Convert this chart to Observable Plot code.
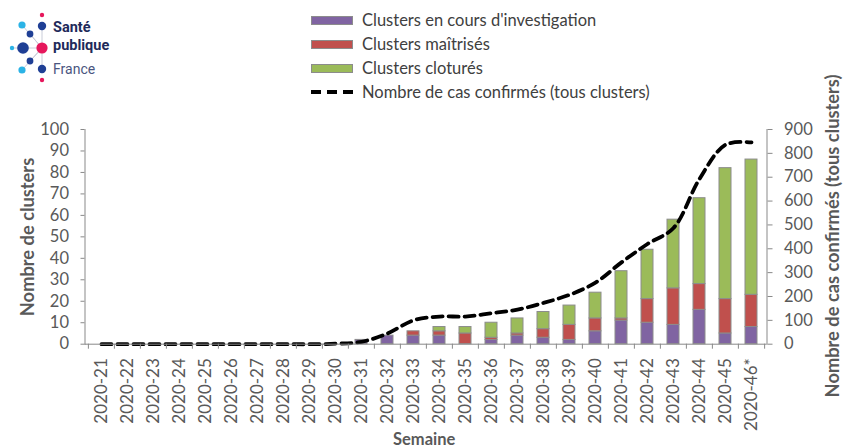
<!DOCTYPE html>
<html>
<head>
<meta charset="utf-8">
<script src="https://cdn.jsdelivr.net/npm/d3@7"></script>
<script src="https://cdn.jsdelivr.net/npm/@observablehq/plot@0.6"></script>
<style>
  body { margin: 0; background: #fff; }
  #wrap { position: relative; width: 845px; height: 448px; font-family: Lato, sans-serif; overflow: hidden; }
  #chart { position: absolute; left: 0; top: 0; }
  .leg { position: absolute; left: 311px; top: 8px; color: #404040; font-size: 16.5px; }
  .row { display: flex; align-items: center; height: 24px; }
  .sw { width: 40px; height: 7px; border: 1px solid #8c8c8c; margin-right: 9px; }
  .dash { width: 42px; height: 4px; margin-right: 9px;
          background: repeating-linear-gradient(90deg, #000 0 10px, transparent 10px 16px); }
  .title { position: absolute; font-weight: bold; color: #595959; font-size: 18.3px; white-space: nowrap; }
  .logo { position: absolute; left: 0; top: 0; }
</style>
</head>
<body>
<div id="wrap">
  <div id="chart"></div>
  <svg class="logo" width="135" height="90" viewBox="0 0 135 90">
    <g stroke="#c9ccd8" stroke-width="1">
      <line x1="42" y1="26" x2="42" y2="69"/>
      <line x1="42" y1="48" x2="22" y2="25"/>
      <line x1="42" y1="48" x2="30" y2="34"/>
      <line x1="42" y1="48" x2="23" y2="48"/>
      <line x1="42" y1="48" x2="30" y2="61"/>
      <line x1="42" y1="48" x2="22" y2="70"/>
      <line x1="23" y1="48" x2="12" y2="48"/>
    </g>
    <circle cx="42" cy="15" r="2.2" fill="#e6175c"/>
    <circle cx="22" cy="25" r="3.6" fill="#2bb3e6"/>
    <circle cx="42" cy="26" r="4.2" fill="#1f3f95"/>
    <circle cx="30" cy="34" r="3.4" fill="#1f3f95"/>
    <circle cx="12" cy="48" r="2.2" fill="#2bb3e6"/>
    <circle cx="23" cy="48" r="5.8" fill="#1f3f95"/>
    <circle cx="42" cy="48" r="5.6" fill="#e6175c"/>
    <circle cx="30" cy="61" r="3.4" fill="#1f3f95"/>
    <circle cx="22" cy="70" r="3.6" fill="#2bb3e6"/>
    <circle cx="42" cy="69" r="4.2" fill="#1f3f95"/>
    <circle cx="42" cy="80" r="2.2" fill="#e6175c"/>
    <text x="53" y="32" font-family="Roboto" font-weight="bold" font-size="14.5" fill="#1e2a5a">Santé</text>
    <text x="53" y="50" font-family="Roboto" font-weight="bold" font-size="14.5" fill="#1e2a5a">publique</text>
    <text x="53" y="74" font-family="Roboto" font-size="14" fill="#4a5680">France</text>
  </svg>
  <div class="leg" id="legend"></div>
  <div class="title" id="ytitle"></div>
  <div class="title" id="y2title"></div>
  <div class="title" id="xtitle"></div>
</div>
<script>
// ---- data ----
const weeks = ["2020-21","2020-22","2020-23","2020-24","2020-25","2020-26","2020-27","2020-28","2020-29","2020-30",
  "2020-31","2020-32","2020-33","2020-34","2020-35","2020-36","2020-37","2020-38","2020-39","2020-40",
  "2020-41","2020-42","2020-43","2020-44","2020-45","2020-46*"];
const enCours   = [0,0,0,0,0,0,0,0,0,0, 2,4,4,4,0,2,4,3,2,6, 11,10,9,16,5,8];
const maitrises = [0,0,0,0,0,0,0,0,0,0, 0,0,2,2,5,1,1,4,7,6, 1,11,17,12,16,15];
const clotures  = [0,0,0,0,0,0,0,0,0,0, 0,0,0,2,3,7,7,8,9,12, 22,23,32,40,61,63];
const cas       = [0,0,0,0,0,0,0,0,0,2, 10,45,100,116,116,130,145,173,207,258, 343,420,487,693,836,846];
const seriesNames = ["Clusters en cours d'investigation","Clusters maîtrisés","Clusters cloturés"];
const seriesColors = ["#8064a2","#c0504d","#9bbb59"];
const lineName = "Nombre de cas confirmés (tous clusters)";
const leftTicks = [0,10,20,30,40,50,60,70,80,90,100];
const rightTicks = [0,100,200,300,400,500,600,700,800,900];
const yTitle = "Nombre de clusters";
const y2Title = "Nombre de cas confirmés (tous clusters)";
const xTitle = "Semaine";

// ---- build ----
const seriesVals = [enCours, maitrises, clotures];
const long = [];
seriesNames.forEach((s, si) => weeks.forEach((w, i) => long.push({week: w, series: s, value: seriesVals[si][i]})));
const caseRows = weeks.map((w, i) => ({week: w, cas: cas[i]}));
const ratio = 900 / 100;

const W = 845, H = 448;
const mL = 84.5, mR = W - 766.5, mT = 129, mB = H - 343.7;
const step = (W - mL - mR) / weeks.length;
const gray = "#898989", txt = "#595959";

const plot = Plot.plot({
  width: W, height: H,
  marginLeft: mL, marginRight: mR, marginTop: mT, marginBottom: mB,
  style: {fontFamily: "Lato, sans-serif", fontSize: "16.5px", color: txt, background: "#fff"},
  x: {domain: weeks, paddingInner: 0.55, paddingOuter: 0.275},
  y: {domain: [0, 100]},
  color: {domain: seriesNames, range: seriesColors},
  marks: [
    Plot.barY(long, Plot.stackY({x: "week", y: "value", fill: "series", order: seriesNames,
      stroke: "#8c8c8c", strokeWidth: 1})),
    Plot.line(caseRows, {x: "week", y: d => d.cas / ratio, curve: "catmull-rom",
      stroke: "#000", strokeWidth: 3.8, strokeDasharray: "10,6"}),
    Plot.ruleY([0], {stroke: gray}),
    Plot.axisY(leftTicks, {anchor: "left", tickSize: 4, tickPadding: 12, label: null,
      stroke: gray, fill: txt, fontSize: 16.5}),
    Plot.axisY(rightTicks.map(v => v / ratio), {anchor: "right", tickSize: 5, tickPadding: 12, label: null,
      tickFormat: d => String(Math.round(d * ratio)), stroke: gray, fill: txt, fontSize: 16.5}),
    Plot.frame({anchor: "left", stroke: gray}),
    Plot.frame({anchor: "right", stroke: gray}),
    Plot.axisX({tickSize: 0, tickPadding: 14, tickRotate: -90, label: null, fill: txt, fontSize: 17}),
    Plot.axisX({tickSize: 5, tickFormat: () => "", label: null, stroke: gray, dx: -step / 2}),
    Plot.axisX([weeks[weeks.length - 1]], {tickSize: 5, tickFormat: () => "", label: null, stroke: gray, dx: step / 2})
  ]
});
document.getElementById("chart").appendChild(plot);

// legend
const leg = document.getElementById("legend");
seriesNames.forEach((s, i) => {
  const r = document.createElement("div"); r.className = "row";
  const sw = document.createElement("div"); sw.className = "sw"; sw.style.background = seriesColors[i];
  const t = document.createElement("span"); t.textContent = s;
  r.appendChild(sw); r.appendChild(t); leg.appendChild(r);
});
{
  const r = document.createElement("div"); r.className = "row";
  const sw = document.createElement("div"); sw.className = "dash";
  const t = document.createElement("span"); t.textContent = lineName;
  r.appendChild(sw); r.appendChild(t); leg.appendChild(r);
}

// titles
function place(id, text, cx, cy, rot) {
  const el = document.getElementById(id);
  el.textContent = text;
  const w = el.offsetWidth, h = el.offsetHeight;
  el.style.left = (cx - w / 2) + "px";
  el.style.top = (cy - h / 2) + "px";
  if (rot) el.style.transform = "rotate(-90deg)";
}
place("ytitle", yTitle, 27, 237, true);
place("y2title", y2Title, 832, 236, true);
document.getElementById("xtitle").style.fontSize = "16.5px";
place("xtitle", xTitle, 424, 439, false);
</script>
</body>
</html>
